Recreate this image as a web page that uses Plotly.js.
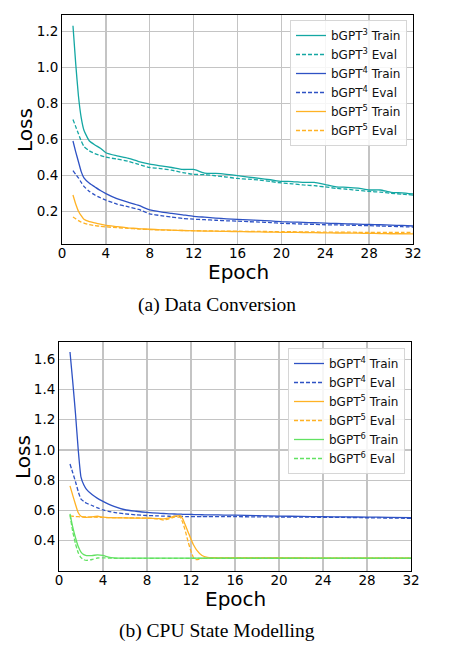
<!DOCTYPE html>
<html>
<head>
<meta charset="utf-8">
<script src="https://cdn.plot.ly/plotly-3.0.1.min.js"></script>
<style>
  html, body { margin: 0; padding: 0; background: #fff; }
  #chart { width: 453px; height: 654px; }
</style>
</head>
<body>
<div id="chart"></div>
<script>
// (a) Data Conversion
var epochsA = [1, 1.25, 1.5, 1.75, 2, 2.5, 3, 3.5, 4, 5, 6, 7, 8, 9, 10, 11, 12, 13, 14, 15,
               16, 17, 18, 19, 20, 21, 22, 23, 24, 25, 26, 27, 28, 29, 30, 31, 32];
var gpt3TrainA = [1.23, 1.02, 0.84, 0.72, 0.65, 0.59, 0.568, 0.55, 0.525, 0.508, 0.495, 0.476, 0.462,
                  0.452, 0.443, 0.432, 0.432, 0.412, 0.41, 0.405, 0.398, 0.39, 0.382, 0.375, 0.366,
                  0.365, 0.36, 0.36, 0.348, 0.335, 0.333, 0.328, 0.318, 0.318, 0.305, 0.302, 0.296];
var gpt3EvalA = [0.71, 0.67, 0.63, 0.59, 0.56, 0.535, 0.52, 0.51, 0.5, 0.49, 0.478, 0.46, 0.443,
                 0.437, 0.428, 0.415, 0.405, 0.403, 0.397, 0.39, 0.382, 0.378, 0.373, 0.365, 0.357,
                 0.352, 0.346, 0.342, 0.335, 0.327, 0.322, 0.316, 0.31, 0.306, 0.3, 0.295, 0.29];
var gpt4TrainA = [0.59, 0.53, 0.475, 0.42, 0.385, 0.355, 0.335, 0.315, 0.298, 0.27, 0.25, 0.232, 0.207,
                  0.196, 0.188, 0.18, 0.172, 0.167, 0.162, 0.158, 0.155, 0.152, 0.149, 0.146, 0.142,
                  0.14, 0.138, 0.136, 0.134, 0.132, 0.13, 0.128, 0.127, 0.125, 0.123, 0.121, 0.118];
var gpt4EvalA = [0.425, 0.405, 0.385, 0.36, 0.338, 0.31, 0.29, 0.275, 0.262, 0.24, 0.225, 0.21, 0.185,
                 0.176, 0.168, 0.16, 0.156, 0.153, 0.15, 0.147, 0.145, 0.142, 0.14, 0.137, 0.133,
                 0.131, 0.129, 0.127, 0.125, 0.124, 0.123, 0.121, 0.12, 0.118, 0.116, 0.114, 0.112];
var gpt5TrainA = [0.29, 0.24, 0.2, 0.175, 0.155, 0.142, 0.135, 0.128, 0.122, 0.115, 0.108, 0.103, 0.1,
                  0.097, 0.095, 0.093, 0.091, 0.09, 0.089, 0.088, 0.087, 0.086, 0.085, 0.084, 0.083,
                  0.083, 0.082, 0.081, 0.08, 0.079, 0.079, 0.078, 0.077, 0.076, 0.075, 0.075, 0.074];
var gpt5EvalA = [0.168, 0.158, 0.148, 0.14, 0.134, 0.125, 0.12, 0.116, 0.113, 0.109, 0.105, 0.101, 0.098,
                 0.096, 0.094, 0.093, 0.092, 0.091, 0.09, 0.09, 0.089, 0.088, 0.088, 0.087, 0.086,
                 0.086, 0.085, 0.085, 0.084, 0.084, 0.084, 0.083, 0.083, 0.083, 0.082, 0.082, 0.082];

// (b) CPU State Modelling
var epochsB = [1, 1.25, 1.5, 1.75, 2, 2.25, 2.5, 3, 3.5, 4, 4.5, 5, 6, 7, 8, 9, 9.5, 10, 10.5, 11,
               11.25, 11.5, 11.75, 12, 12.25, 12.5, 13, 13.5, 14, 15, 16, 18, 20, 22, 24, 26, 28, 30, 32];
var gpt4TrainB = [1.648, 1.45, 1.24, 1.0, 0.82, 0.77, 0.74, 0.705, 0.68, 0.66, 0.642, 0.627, 0.605,
                  0.595, 0.587, 0.582, 0.58, 0.578, 0.577, 0.576, 0.575, 0.575, 0.574, 0.574, 0.573,
                  0.573, 0.572, 0.571, 0.571, 0.57, 0.569, 0.566, 0.563, 0.561, 0.559, 0.558, 0.556,
                  0.555, 0.553];
var gpt4EvalB = [0.907, 0.85, 0.79, 0.725, 0.675, 0.66, 0.648, 0.633, 0.617, 0.604, 0.594, 0.587, 0.578,
                 0.571, 0.567, 0.564, 0.563, 0.562, 0.561, 0.561, 0.561, 0.56, 0.56, 0.56, 0.56,
                 0.56, 0.56, 0.56, 0.56, 0.559, 0.559, 0.558, 0.557, 0.556, 0.555, 0.554, 0.552,
                 0.55, 0.548];
var gpt5TrainB = [0.763, 0.7, 0.64, 0.585, 0.562, 0.556, 0.555, 0.558, 0.562, 0.556, 0.553, 0.552, 0.551,
                  0.55, 0.549, 0.546, 0.545, 0.552, 0.562, 0.566, 0.545, 0.5, 0.455, 0.41, 0.37,
                  0.34, 0.302, 0.29, 0.288, 0.287, 0.287, 0.286, 0.286, 0.286, 0.285, 0.285, 0.285,
                  0.285, 0.285];
var gpt5EvalB = [0.565, 0.562, 0.56, 0.559, 0.558, 0.557, 0.557, 0.556, 0.555, 0.554, 0.553, 0.553, 0.552,
                 0.551, 0.549, 0.545, 0.537, 0.545, 0.556, 0.555, 0.52, 0.46, 0.39, 0.33, 0.285,
                 0.275, 0.283, 0.286, 0.287, 0.287, 0.286, 0.286, 0.286, 0.285, 0.285, 0.285, 0.285,
                 0.285, 0.285];
var gpt6TrainB = [0.578, 0.49, 0.42, 0.362, 0.325, 0.308, 0.302, 0.302, 0.307, 0.303, 0.292, 0.287, 0.285,
                  0.285, 0.285, 0.285, 0.285, 0.285, 0.285, 0.285, 0.285, 0.285, 0.285, 0.285, 0.285,
                  0.285, 0.285, 0.285, 0.285, 0.285, 0.285, 0.285, 0.285, 0.285, 0.285, 0.285, 0.285,
                  0.285, 0.285];
var gpt6EvalB = [0.57, 0.46, 0.38, 0.32, 0.288, 0.275, 0.27, 0.276, 0.286, 0.287, 0.285, 0.284, 0.283,
                 0.283, 0.283, 0.283, 0.283, 0.283, 0.283, 0.283, 0.283, 0.283, 0.283, 0.283, 0.283,
                 0.283, 0.283, 0.283, 0.283, 0.283, 0.283, 0.283, 0.283, 0.283, 0.283, 0.283, 0.283,
                 0.283, 0.283];

var xTicks = [0, 4, 8, 12, 16, 20, 24, 28, 32];
var yTicksA = [0.2, 0.4, 0.6, 0.8, 1.0, 1.2];
var yLabelsA = ['0.2', '0.4', '0.6', '0.8', '1.0', '1.2'];
var yTicksB = [0.4, 0.6, 0.8, 1.0, 1.2, 1.4, 1.6];
var yLabelsB = ['0.4', '0.6', '0.8', '1.0', '1.2', '1.4', '1.6'];

var TEAL = '#14a7a3';
var BLUE = '#2e52c4';
var ORANGE = '#ffb224';
var GREEN = '#62e262';

var W = 453, H = 654;
function px(x) { return x / W; }
function py(y) { return 1 - y / H; }

function line(x, y, name, color, dashed, axis, legend)
{
    return {
        x: x,
        y: y,
        mode: 'lines',
        name: name,
        xaxis: 'x' + axis,
        yaxis: 'y' + axis,
        legend: legend,
        line: {color: color, width: 1.3, dash: dashed ? '4px,2px' : 'solid', shape: 'spline', smoothing: 0.5}
    };
}

var traces = [
    line(epochsA, gpt3TrainA, 'bGPT<sup>3</sup> Train', TEAL, false, '', 'legend'),
    line(epochsA, gpt3EvalA, 'bGPT<sup>3</sup> Eval', TEAL, true, '', 'legend'),
    line(epochsA, gpt4TrainA, 'bGPT<sup>4</sup> Train', BLUE, false, '', 'legend'),
    line(epochsA, gpt4EvalA, 'bGPT<sup>4</sup> Eval', BLUE, true, '', 'legend'),
    line(epochsA, gpt5TrainA, 'bGPT<sup>5</sup> Train', ORANGE, false, '', 'legend'),
    line(epochsA, gpt5EvalA, 'bGPT<sup>5</sup> Eval', ORANGE, true, '', 'legend'),
    line(epochsB, gpt4TrainB, 'bGPT<sup>4</sup> Train', BLUE, false, '2', 'legend2'),
    line(epochsB, gpt4EvalB, 'bGPT<sup>4</sup> Eval', BLUE, true, '2', 'legend2'),
    line(epochsB, gpt5TrainB, 'bGPT<sup>5</sup> Train', ORANGE, false, '2', 'legend2'),
    line(epochsB, gpt5EvalB, 'bGPT<sup>5</sup> Eval', ORANGE, true, '2', 'legend2'),
    line(epochsB, gpt6TrainB, 'bGPT<sup>6</sup> Train', GREEN, false, '2', 'legend2'),
    line(epochsB, gpt6EvalB, 'bGPT<sup>6</sup> Eval', GREEN, true, '2', 'legend2')
];

function axis(domain, range, ticks, labels, anchor, standoff)
{
    return {
        domain: domain,
        range: range,
        anchor: anchor,
        tickmode: 'array',
        tickvals: ticks,
        ticktext: labels,
        showgrid: true,
        gridcolor: '#c4c4c4',
        gridwidth: 1.3,
        zeroline: false,
        showline: true,
        linecolor: '#000',
        linewidth: 1,
        mirror: true,
        ticks: '',
        ticklabelstandoff: standoff,
        tickfont: {size: 13.5, color: '#000'}
    };
}

function legendBox(x, y)
{
    return {
        x: x, y: y, xanchor: 'right', yanchor: 'top',
        bgcolor: 'rgba(255,255,255,0.85)',
        bordercolor: '#d6d6d6',
        borderwidth: 1,
        tracegroupgap: 0,
        font: {size: 12, color: '#111'}
    };
}

function label(text, x, y, size, angle, family)
{
    return {
        text: text, xref: 'paper', yref: 'paper', x: px(x), y: py(y),
        xanchor: 'center', yanchor: 'middle', showarrow: false, textangle: angle || 0,
        font: {size: size, color: '#000', family: family || 'DejaVu Sans'}
    };
}

var layout = {
    width: W,
    height: H,
    margin: {l: 0, r: 0, t: 0, b: 0},
    paper_bgcolor: '#fff',
    plot_bgcolor: '#fff',
    font: {family: 'DejaVu Sans', color: '#000'},
    xaxis: axis([px(62), px(413)], [0, 32], xTicks, xTicks.map(String), 'y', -3),
    yaxis: axis([py(244), py(15)], [0.018, 1.29], yTicksA, yLabelsA, 'x', 0),
    xaxis2: axis([px(59), px(411)], [0, 32], xTicks, xTicks.map(String), 'y2', -3),
    yaxis2: axis([py(571), py(342)], [0.2, 1.714], yTicksB, yLabelsB, 'x2', 0),
    legend: legendBox(px(407), py(20)),
    legend2: legendBox(px(405), py(348)),
    annotations: [
        label('Epoch', 238, 272, 20),
        label('Loss', 25, 130, 20, -90),
        label('(a) Data Conversion', 217, 305, 19.5, 0, 'Liberation Serif'),
        label('Epoch', 235, 599, 20),
        label('Loss', 23, 457, 20, -90),
        label('(b) CPU State Modelling', 217, 631, 19.5, 0, 'Liberation Serif')
    ]
};

Plotly.newPlot('chart', traces, layout, {staticPlot: true, displayModeBar: false});
</script>
</body>
</html>
